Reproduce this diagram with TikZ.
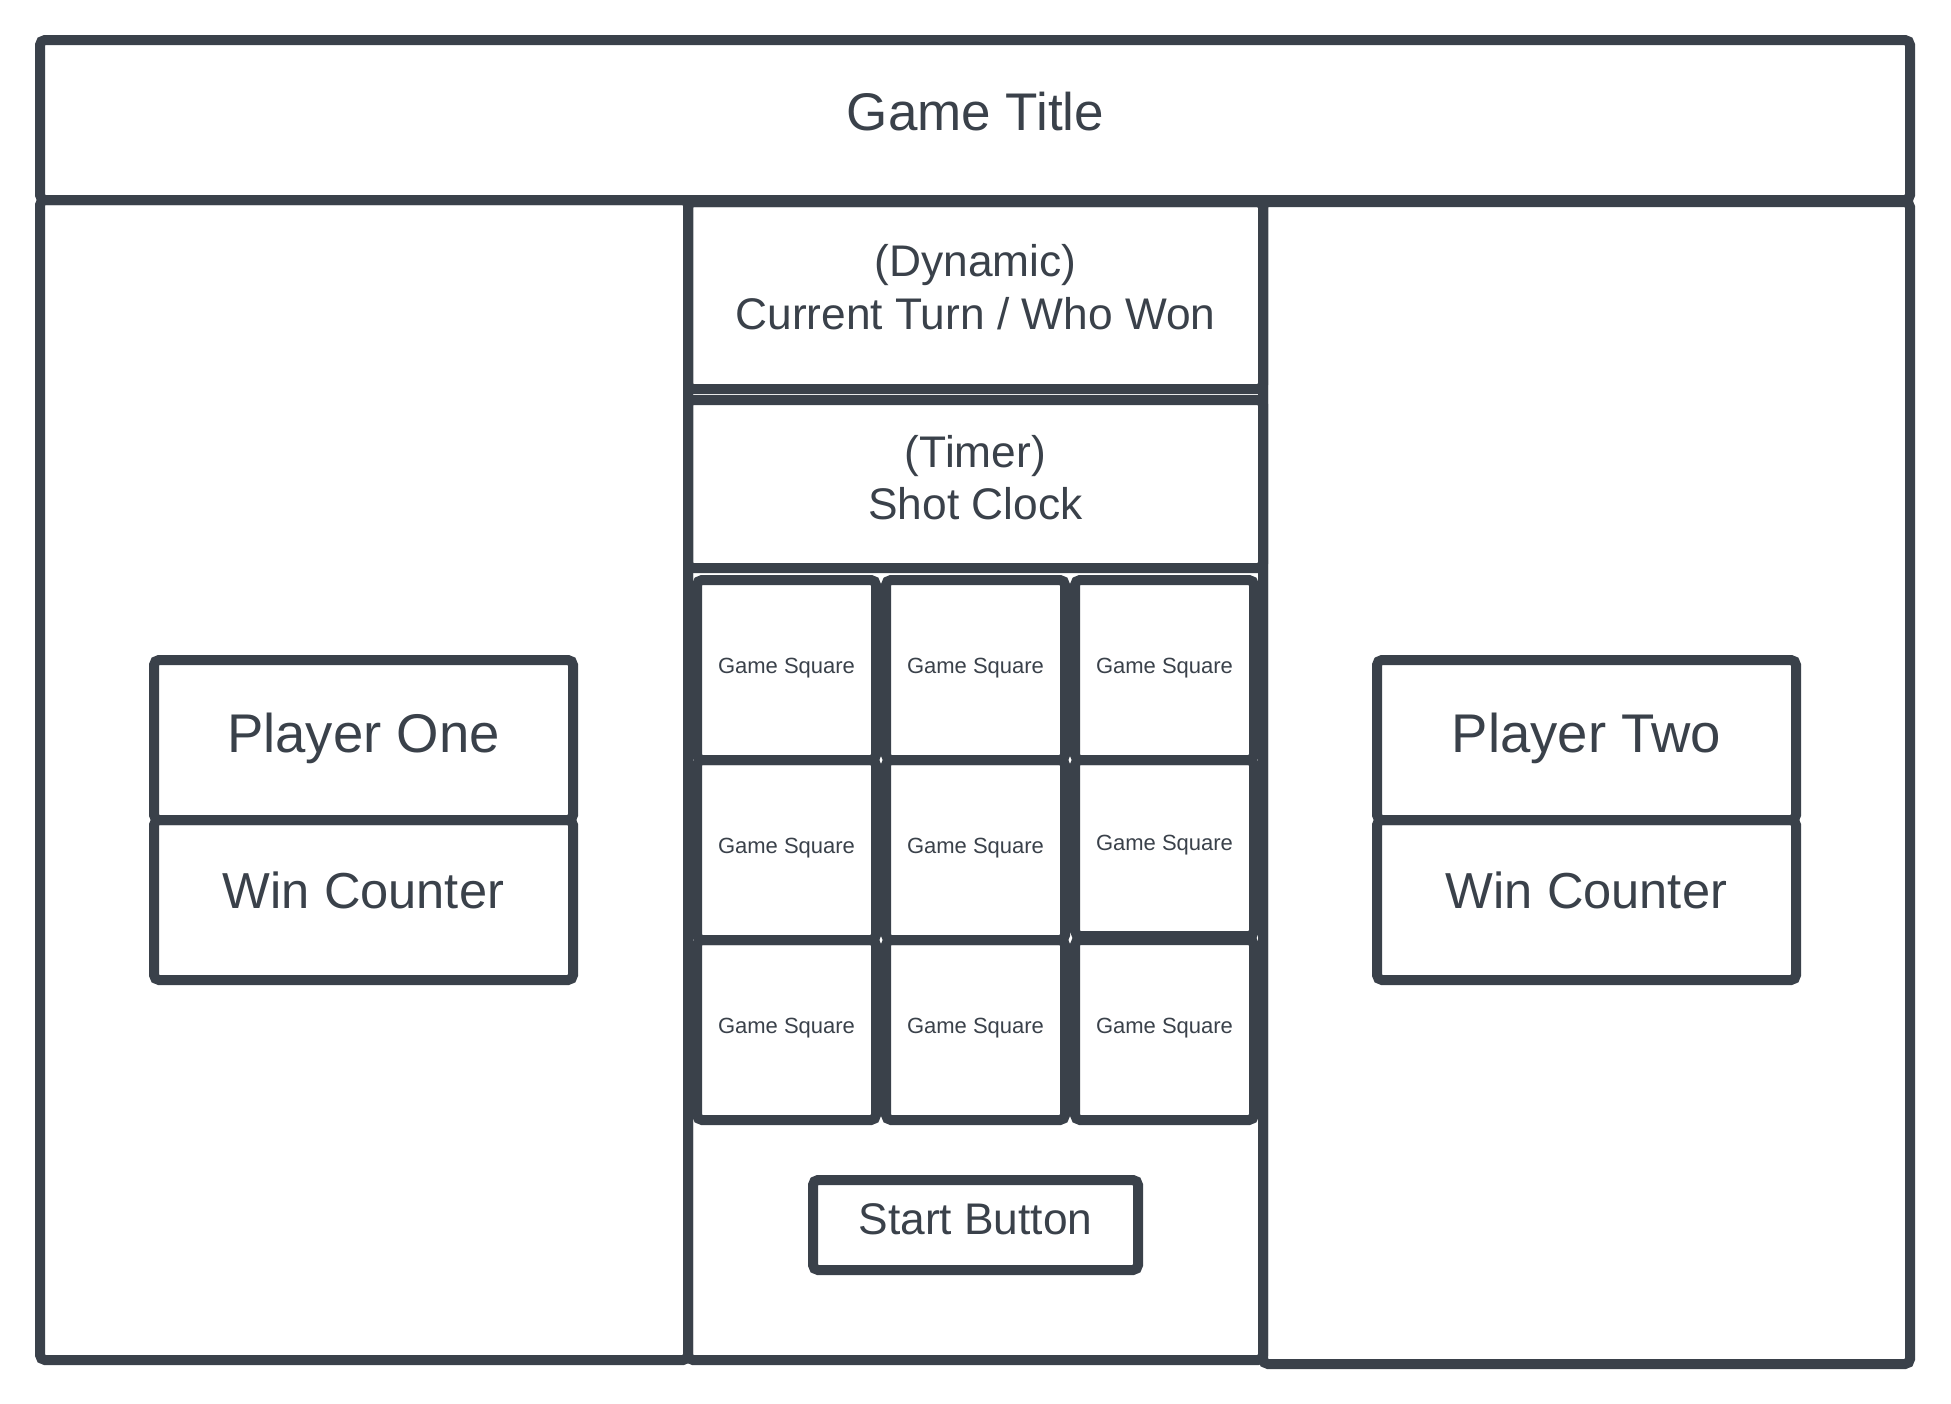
\documentclass[tikz,border=0pt]{standalone}
\usepackage{fontspec}
\setmainfont{Liberation Sans}
\usetikzlibrary{fit}
\definecolor{ink}{HTML}{3A414A}
\begin{document}
\begin{tikzpicture}[x=1pt,y=-1pt,
  box/.style={draw=ink, line width=10pt, rounded corners=5pt, inner sep=0pt, outer sep=0pt},
  lbl/.style={anchor=base, inner sep=0pt, outer sep=0pt, text=ink},
  ttl/.style={lbl, font=\fontsize{53}{62}\selectfont},
  plr/.style={lbl, font=\fontsize{54.5}{64}\selectfont},
  wins/.style={lbl, font=\fontsize{50.6}{60}\selectfont},
  mid/.style={lbl, font=\fontsize{44.3}{53}\selectfont},
  small/.style={lbl, font=\fontsize{22}{26}\selectfont}]
\useasboundingbox (0,0) rectangle (1951,1403);
% frames
\node[box, fit={(40,40) (1910,200)}] (title) {};
\node[box, fit={(40,200) (688,1360)}] (left) {};
\node[box, fit={(688,202) (1263,1360)}] (center) {};
\node[box, fit={(1263,202) (1910,1364)}] (right) {};
% center column
\node[box, fit={(688,202) (1263,389)}] (dyn) {};
\node[box, fit={(688,400) (1263,568)}] (timer) {};
% grid
\node[box, fit={(697,580) (876,760)}] (sq11) {};
\node[box, fit={(886,580) (1065,760)}] (sq12) {};
\node[box, fit={(1075,580) (1254,760)}] (sq13) {};
\node[box, fit={(697,760) (876,940)}] (sq21) {};
\node[box, fit={(886,760) (1065,940)}] (sq22) {};
\node[box, fit={(1075,760) (1254,936)}] (sq23) {};
\node[box, fit={(697,940) (876,1120)}] (sq31) {};
\node[box, fit={(886,940) (1065,1120)}] (sq32) {};
\node[box, fit={(1075,940) (1254,1120)}] (sq33) {};
\node[box, fit={(813,1180) (1138,1270)}] (start) {};
% players
\node[box, fit={(154,660) (573,820)}] (p1) {};
\node[box, fit={(154,820) (573,980)}] (w1) {};
\node[box, fit={(1377,660) (1796,820)}] (p2) {};
\node[box, fit={(1377,820) (1796,980)}] (w2) {};
% texts
\node[ttl] (titletxt) at (975.5,130) {Game Title};
\node[mid] (dyntxta) at (975.5,276) {(Dynamic)};
\node[mid] (dyntxtb) at (975.5,329) {Current Turn / Who Won};
\node[mid] (timertxta) at (975.5,467) {(Timer)};
\node[mid] (timertxtb) at (975.5,519) {Shot Clock};
\node[small] (t11) at (786.5,673) {Game Square};
\node[small] (t12) at (975.5,673) {Game Square};
\node[small] (t13) at (1164.5,673) {Game Square};
\node[small] (t21) at (786.5,853) {Game Square};
\node[small] (t22) at (975.5,853) {Game Square};
\node[small] (t23) at (1164.5,850) {Game Square};
\node[small] (t31) at (786.5,1033) {Game Square};
\node[small] (t32) at (975.5,1033) {Game Square};
\node[small] (t33) at (1164.5,1033) {Game Square};
\node[mid] (starttxt) at (975.5,1234) {Start Button};
\node[plr] (p1txt) at (363.5,752) {Player One};
\node[wins] (w1txt) at (363.5,908) {Win Counter};
\node[plr] (p2txt) at (1586.5,752) {Player Two};
\node[wins] (w2txt) at (1586.5,908) {Win Counter};
\end{tikzpicture}
\end{document}
